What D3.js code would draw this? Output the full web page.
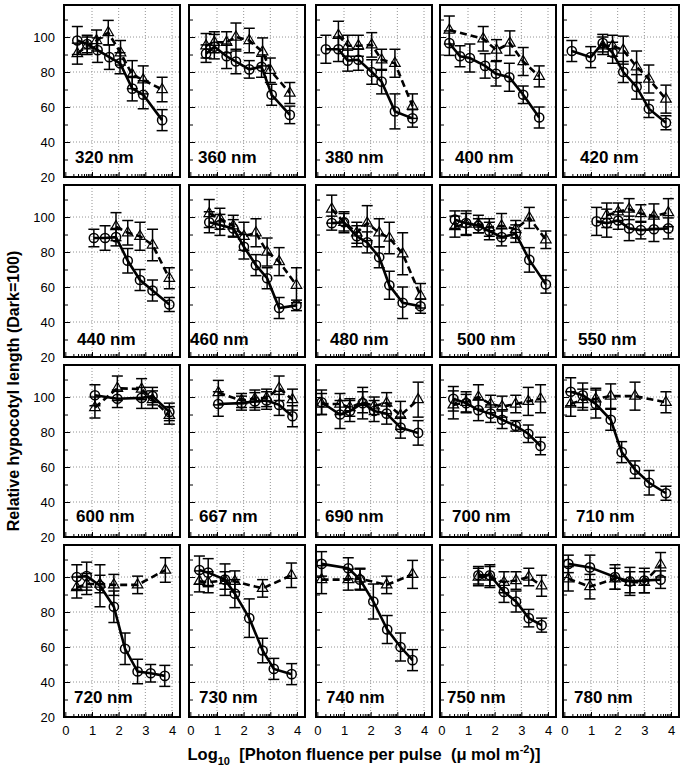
<!DOCTYPE html>
<html><head><meta charset="utf-8">
<script src="https://cdn.jsdelivr.net/npm/d3@7"></script>
<style>
body{margin:0;background:#fff}
text{font-family:"Liberation Sans",Arial,Helvetica,sans-serif}
</style>
</head><body>
<svg id="chart" width="685" height="771"></svg>
<script>
// ---------------- data ----------------
const wavelengths = ["320 nm","360 nm","380 nm","400 nm","420 nm",
                     "440 nm","460 nm","480 nm","500 nm","550 nm",
                     "600 nm","667 nm","690 nm","700 nm","710 nm",
                     "720 nm","730 nm","740 nm","750 nm","780 nm"];

const xTicks = [0,1,2,3,4];
const yTicks = [20,40,60,80,100];

// circles (solid line)
const circleX = [
 [0.45,0.82,1.21,1.65,2.05,2.51,2.92,3.63],
 [0.59,0.9,1.36,1.71,2.21,2.67,3.05,3.73],
 [0.32,0.79,1.14,1.54,2.04,2.41,2.91,3.57],
 [0.3,0.7,1.07,1.64,2.05,2.55,3.07,3.67],
 [0.28,0.99,1.44,1.81,2.21,2.71,3.17,3.81],
 [1.07,1.49,1.9,2.34,2.8,3.27,3.9],
 [0.71,1.11,1.61,2.01,2.46,2.88,3.33,3.98],
 [0.54,1.0,1.48,1.87,2.32,2.7,3.2,3.87],
 [0.51,0.93,1.39,1.8,2.26,2.79,3.3,3.92],
 [1.21,1.59,2.02,2.43,2.87,3.36,3.9],
 [1.11,1.95,2.86,3.27,3.9],
 [1.05,1.92,2.42,2.86,3.33,3.83],
 [0.16,0.85,1.22,1.7,2.13,2.6,3.12,3.78],
 [0.45,0.93,1.39,1.85,2.28,2.79,3.26,3.72],
 [0.24,0.69,1.18,1.74,2.15,2.65,3.18,3.81],
 [0.43,0.8,1.3,1.82,2.24,2.71,3.2,3.73],
 [0.34,0.67,1.3,1.67,2.21,2.71,3.13,3.8],
 [0.16,1.16,1.6,2.1,2.62,3.12,3.57],
 [1.39,1.82,2.35,2.8,3.28,3.76],
 [0.15,0.96,1.9,2.46,3.0,3.61]
];
const circleY = [
 [98,96,92.5,88.5,85,70.5,67,52.5],
 [90.5,94.5,89,86,81.5,83,67,55.5],
 [93,93,86.5,87,80,74.5,57.5,53.5],
 [96.5,89,88,83.5,79,77,67,54],
 [92,88.5,96.5,91,80,71.5,59,51],
 [88,88,88.5,75,64,58,50],
 [97,95.5,93.5,83,72.5,65,48,49.5],
 [96.5,97,89,85.5,77,61,51,49],
 [98.5,96.5,95,92,88.5,90.5,75.5,61.5],
 [97.5,96.5,98,93.5,92.5,93,93.5],
 [101,99,99.5,100.5,91.5],
 [96,96.5,97.5,98,95.5,89],
 [97,90,92,96.5,92,90.5,82.5,79.5],
 [99,96.5,92.5,90.5,87,83.5,79,72],
 [103,101,96,87,68.5,58.5,51,45],
 [100,100.5,95,83,59,46,45,43.5],
 [104,102.5,98.5,90.5,76.5,58,47.5,44.5],
 [107.5,105,98.5,86,70,60,52.5],
 [101,101,91.5,86,76.5,72.5],
 [107.5,105.5,100,97.5,98,98.5]
];
const circleErr = [
 [8,5,7,7,6,7,8,6],
 [5,7,7,7,5,6,6,5],
 [8,7,6,6,7,7,10,5],
 [7,6,8,7,7,8,5,6],
 [6,6,5,6,6,7,5,4],
 [5,7,5,7,6,6,4],
 [6,6,5,7,6,6,6,3],
 [4,5,6,6,6,8,9,4],
 [5,7,4,5,5,5,7,5],
 [8,8,5,7,5,7,6],
 [6,5,6,5,5],
 [7,4,5,5,6,6],
 [7,8,6,9,6,6,6,7],
 [7,5,6,5,5,3,5,5],
 [8,7,8,6,6,5,7,4],
 [7,8,12,9,9,7,5,6],
 [8,8,9,8,11,7,6,6],
 [7,6,6,10,8,8,6],
 [5,6,6,6,5,4],
 [5,7,7,8,7,5]
];

// triangles (dashed line)
const triX = [
 [0.45,0.82,1.17,1.61,2.07,2.51,2.92,3.63],
 [0.59,0.9,1.36,1.71,2.21,2.71,3.0,3.73],
 [0.79,1.14,1.54,2.04,2.41,2.91,3.57],
 [0.3,1.57,2.07,2.57,3.07,3.67],
 [1.44,1.81,2.21,2.71,3.17,3.81],
 [1.9,2.34,2.8,3.27,3.9],
 [0.71,1.11,1.61,2.01,2.46,2.88,3.33,3.98],
 [0.54,1.0,1.48,1.87,2.32,2.7,3.2,3.87],
 [0.51,0.93,1.39,1.8,2.26,2.79,3.3,3.92],
 [1.59,2.02,2.43,2.87,3.36,3.9],
 [1.11,1.95,2.86,3.27,3.9],
 [1.05,1.92,2.42,2.86,3.33,3.83],
 [0.16,0.85,1.22,1.7,2.13,2.6,3.12,3.78],
 [0.45,0.93,1.39,1.85,2.28,2.79,3.26,3.72],
 [0.24,0.69,1.18,1.74,2.65,3.81],
 [0.43,0.8,1.3,1.82,2.71,3.75],
 [0.34,0.67,1.3,1.67,2.71,3.79],
 [0.16,1.16,1.6,2.6,3.57],
 [1.39,1.82,2.35,2.8,3.28,3.76],
 [0.15,0.96,1.9,2.46,3.0,3.61]
];
const triY = [
 [90.5,95,98,102.5,91,78.5,75.5,70],
 [95,97,97,100,98,91.5,81,68],
 [101,95,95,95.5,87,85,60.5],
 [104,99,92.5,96.5,86,77.5],
 [95,95,92.5,83,76,64.5],
 [94.5,91,89,84,65],
 [102,99,95,89,91,80,74.5,61],
 [104.5,97,91,96.5,91,88,79,55],
 [94.5,96,96,94,95,93,99.5,87],
 [101,103,104.5,102,100.5,102.5],
 [94,105,104.5,98.5,89.5],
 [102.5,98,99,99.5,105,98.5],
 [96,96,94,97,95,96.5,89.5,98.5],
 [95.5,97,100,96,94.5,96,97.5,99],
 [96,98.5,99,100.5,100.5,97],
 [94,96,96,95.5,95.5,104],
 [97.5,97,98,97.5,93.5,101],
 [98.5,98.5,99,95.5,101.5],
 [100,100,97,98,100,95],
 [99,94.5,99,97,97,107]
];
const triErr = [
 [6,5,6,7,7,8,8,7],
 [7,6,6,8,7,8,7,6],
 [8,6,6,7,6,8,7],
 [8,7,6,7,8,6],
 [5,6,8,9,8,8],
 [8,7,8,9,6],
 [8,6,6,8,8,8,8,10],
 [8,6,6,10,8,9,12,7],
 [6,6,5,5,7,5,6,5],
 [7,5,6,5,7,8],
 [6,7,6,5,5],
 [7,4,5,5,7,6],
 [6,6,5,6,5,6,8,10],
 [8,6,7,5,6,5,8,8],
 [7,6,6,7,8,6],
 [6,6,5,6,5,7],
 [6,6,5,6,5,7],
 [8,6,6,5,8],
 [5,6,6,5,5,6],
 [7,7,6,6,6,7]
];

// ---------------- layout ----------------
const svg = d3.select("#chart");
const colLeft = [64,189,316,440,563];
const rowBottom = [177,357,537,717];
const labelBaseGap = [14,12,15,14];
const labelDx = [11,9,9,15,17, 13,1,14,17,15, 12,10,9,12,13, 10,10,10,7,11];
const W = 116, H = 172;
const xDomain = [-0.05, 4.3];
const yDomain = [20, 118.3];

const minorX = [];
for (let n = 0; n < 5; n++) for (let k = 2; k < 10; k++) {
  const v = n + Math.log10(k);
  if (v <= 4.3) minorX.push(v);
}
const minorY = d3.range(30, 118, 20);

wavelengths.forEach((label, i) => {
  const c = i % 5, r = Math.floor(i / 5);
  const L = colLeft[c], B = rowBottom[r];
  const x = d3.scaleLinear().domain(xDomain).range([L, L + W]);
  const y = d3.scaleLinear().domain(yDomain).range([B, B - H]);
  const g = svg.append("g");

  // grid
  g.append("g").selectAll("line").data(xTicks.slice(1)).join("line")
    .attr("x1", d => x(d)).attr("x2", d => x(d)).attr("y1", B).attr("y2", B - H)
    .attr("stroke", "#888").attr("stroke-width", 0.9).attr("stroke-dasharray", "1,2");
  g.append("g").selectAll("line").data(yTicks.slice(1)).join("line")
    .attr("y1", d => y(d)).attr("y2", d => y(d)).attr("x1", L).attr("x2", L + W)
    .attr("stroke", "#888").attr("stroke-width", 0.9).attr("stroke-dasharray", "1,2");

  // axes (inward ticks)
  const ax = d3.axisBottom(x).tickValues(xTicks).tickSizeInner(-5).tickSizeOuter(0).tickPadding(9)
    .tickFormat(r === 3 ? d3.format("d") : () => "");
  const axg = g.append("g").attr("transform", `translate(0,${B})`).call(ax);
  const axm = d3.axisBottom(x).tickValues(minorX).tickSizeInner(-3).tickSizeOuter(0).tickFormat(() => "");
  const axmg = g.append("g").attr("transform", `translate(0,${B})`).call(axm);
  const ay = d3.axisLeft(y).tickValues(yTicks).tickSizeInner(-6).tickSizeOuter(0).tickPadding(9)
    .tickFormat(c === 0 ? d3.format("d") : () => "");
  const ayg = g.append("g").attr("transform", `translate(${L},0)`).call(ay);
  const aym = d3.axisLeft(y).tickValues(minorY).tickSizeInner(-4).tickSizeOuter(0).tickFormat(() => "");
  const aymg = g.append("g").attr("transform", `translate(${L},0)`).call(aym);
  [axg, axmg, ayg, aymg].forEach(s => {
    s.select(".domain").remove();
    s.selectAll("line").attr("stroke", "#000").attr("stroke-width", 1);
    s.selectAll("text").attr("font-size", 13).attr("fill", "#000")
      .style("font-family", '"Liberation Sans",Arial,sans-serif');
  });

  // frame
  g.append("rect").attr("x", L).attr("y", B - H).attr("width", W).attr("height", H)
    .attr("fill", "none").attr("stroke", "#000").attr("stroke-width", 2);

  // data
  const circ = circleX[i].map((v, j) => ({x: v, y: circleY[i][j], e: circleErr[i][j]}));
  const tri = triX[i].map((v, j) => ({x: v, y: triY[i][j], e: triErr[i][j]}));
  const line = d3.line().x(d => x(d.x)).y(d => y(d.y));

  const drawErr = (data) => {
    const eg = g.append("g").attr("stroke", "#000").attr("stroke-width", 1.5);
    data.forEach(d => {
      const xp = x(d.x), y1 = y(d.y - d.e), y2 = y(d.y + d.e);
      eg.append("line").attr("x1", xp).attr("x2", xp).attr("y1", y1).attr("y2", y2);
      eg.append("line").attr("x1", xp - 5.5).attr("x2", xp + 5.5).attr("y1", y1).attr("y2", y1);
      eg.append("line").attr("x1", xp - 5.5).attr("x2", xp + 5.5).attr("y1", y2).attr("y2", y2);
    });
  };
  drawErr(tri);
  drawErr(circ);

  g.append("path").datum(tri).attr("d", line).attr("fill", "none")
    .attr("stroke", "#000").attr("stroke-width", 2.6).attr("stroke-dasharray", "7,4");
  g.append("path").datum(circ).attr("d", line).attr("fill", "none")
    .attr("stroke", "#000").attr("stroke-width", 2.6);

  g.append("g").selectAll("path").data(tri).join("path")
    .attr("d", d3.symbol(d3.symbolTriangle, 48))
    .attr("transform", d => `translate(${x(d.x)},${y(d.y)})`)
    .attr("fill", "none").attr("stroke", "#000").attr("stroke-width", 1.2);
  g.append("g").selectAll("circle").data(circ).join("circle")
    .attr("cx", d => x(d.x)).attr("cy", d => y(d.y)).attr("r", 4.6)
    .attr("fill", "none").attr("stroke", "#000").attr("stroke-width", 1.5);

  // panel label
  g.append("text").attr("x", L + labelDx[i]).attr("y", B - labelBaseGap[r])
    .attr("font-size", 17).attr("font-weight", "bold").text(label);
});

// axis titles
svg.append("text")
  .attr("transform", "translate(19,391) rotate(-90)")
  .attr("text-anchor", "middle").attr("font-size", 16).attr("font-weight", "bold")
  .text("Relative hypocotyl length (Dark=100)");

const xt = svg.append("text").attr("x", 364).attr("y", 760)
  .attr("text-anchor", "middle").attr("font-size", 16.5).attr("font-weight", "bold")
  .style("white-space", "pre");
xt.append("tspan").text("Log");
xt.append("tspan").attr("font-size", 11).attr("dy", 5).text("10");
xt.append("tspan").attr("dy", -5).text("  [Photon fluence per pulse  (\u03bc mol m");
xt.append("tspan").attr("font-size", 11).attr("dy", -7).text("-2");
xt.append("tspan").attr("dy", 7).text(")]");
</script>
</body></html>
